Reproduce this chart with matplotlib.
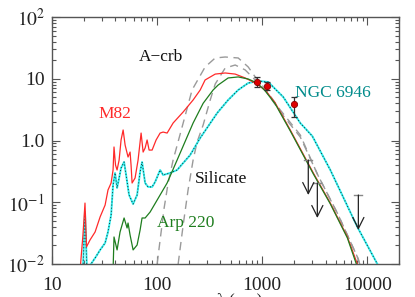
import numpy as np
import matplotlib
matplotlib.use("Agg")
import matplotlib.pyplot as plt
from matplotlib.ticker import FixedLocator, FixedFormatter, LogLocator, NullFormatter

plt.rcParams['font.family'] = ['Liberation Serif', 'DejaVu Serif']
plt.rcParams['mathtext.fontset'] = 'stix'

# ---- data (wavelength in micron, flux density) ----
m82_lam = [18.5, 19.7, 20.6, 21.3, 23.0, 25.7, 28.7, 32.0, 34.1, 36.5, 38.1, 38.9, 40.2, 41.6,
           43.5, 45.4, 47.5, 49.6, 52.9, 55.3, 56.5, 57.8, 61.7, 65.9, 70.4, 73.6, 76.9, 80.3,
           83.9, 89.6, 97.8, 106.8, 114, 124.5, 142, 177, 220, 257, 286, 357, 444, 553, 688,
           857, 1068, 1330, 1848, 3061, 4443, 6457, 8035, 8580]
m82_flux = [0.008, 0.0295, 0.097, 0.019, 0.0245, 0.033, 0.058, 0.090, 0.158, 0.205, 0.333, 0.785,
            0.40, 0.333, 0.483, 1.02, 1.48, 0.845, 0.54, 0.65, 0.40, 0.205, 0.247, 0.483, 1.32,
            0.65, 0.757, 1.02, 0.70, 0.70, 1.02, 1.32, 1.37, 1.32, 1.92, 2.90, 4.53, 6.58, 9.55,
            11.9, 12.4, 11.9, 10.3, 8.53, 6.58, 4.05, 1.48, 0.298, 0.097, 0.0274, 0.010, 0.008]

arp_lam = [38.1, 38.9, 41.6, 44.4, 48.5, 51.8, 52.9, 55.3, 59.1, 64.5, 68.9, 71.9, 76.9, 85.8,
           124.5, 155, 220, 274, 341, 381, 474, 591, 736, 896, 1068, 1330, 1848, 3061, 4443,
           6457, 7855, 8400]
arp_flux = [0.008, 0.0274, 0.0169, 0.033, 0.0556, 0.0383, 0.0461, 0.0295, 0.0169, 0.0203, 0.0356,
            0.0556, 0.0556, 0.0695, 0.205, 0.483, 1.92, 4.0, 6.58, 7.92, 10.3, 10.7, 9.9, 8.53,
            6.34, 3.90, 1.43, 0.288, 0.094, 0.0264, 0.010, 0.008]

ngc_lam = [19.7, 20.6, 21.5, 23.0, 25.7, 28.7, 32.0, 34.1, 36.5, 38.1, 39.8, 41.6, 43.5, 45.4,
           48.5, 50.7, 54.1, 59.1, 64.5, 68.9, 71.9, 76.9, 82.1, 89.6, 95.7, 106.8, 114, 133,
           155, 177, 206, 257, 373, 474, 591, 736, 916, 1141, 1585, 2300, 2994, 4443, 8035,
           12450, 13300]
ngc_flux = [0.008, 0.0695, 0.008, 0.0095, 0.0125, 0.0169, 0.0219, 0.033, 0.0621, 0.190, 0.298,
            0.170, 0.247, 0.359, 0.449, 0.276, 0.131, 0.0937, 0.131, 0.309, 0.449, 0.205, 0.177,
            0.177, 0.213, 0.333, 0.276, 0.298, 0.333, 0.432, 0.58, 1.10, 2.79, 4.53, 6.58, 8.53,
            9.2, 8.86, 5.06, 1.92, 1.18, 0.333, 0.0397, 0.010, 0.008]

acrb_lam = [100, 106.8, 116.6, 127.3, 142, 177, 215, 286, 357, 444, 591, 736, 857, 1068, 1484,
            2300, 3343, 5176, 8035, 8770]
acrb_flux = [0.010, 0.0245, 0.0807, 0.205, 0.483, 1.92, 6.58, 15.5, 21.7, 22.5, 21.7, 15.5, 10.7,
             6.83, 3.12, 1.23, 0.286, 0.067, 0.013, 0.008]

sil_lam = [158.5, 177, 197, 220, 240, 274, 320, 357, 444, 553, 688, 857, 1068, 1484, 2300, 3414,
           5296, 8210, 8770]
sil_flux = [0.010, 0.0429, 0.158, 0.483, 0.946, 1.78, 4.53, 8.22, 14.9, 16.7, 13.9, 9.55, 6.58,
            2.90, 1.14, 0.266, 0.062, 0.012, 0.008]

obs_lam = [896, 1116, 2018]
obs_flux = [8.86, 7.64, 3.90]
obs_lo = [7.35, 6.58, 2.40]
obs_hi = [10.7, 8.86, 5.06]

lim_lam = [2742, 3343, 8210]
lim_top = [0.483, 0.205, 0.131]
lim_head = [0.131, 0.0556, 0.0356]

yticks = [0.01, 0.1, 1.0, 10, 100]
ylabels = ['$10^{-2}$', '$10^{-1}$', '1.0', '10', '$10^{2}$']
xticks = [10, 100, 1000, 10000]
xlabels = ['10', '100', '1000', '10000']

# ---- figure ----
fig = plt.figure(figsize=(4.15, 2.97), dpi=100)
ax = fig.add_axes([52/415, 1-264/297, (399-52)/415, (264-17)/297])
ax.set_xscale('log')
ax.set_yscale('log')
ax.set_xlim(10, 20000)
ax.set_ylim(0.01, 100)

gray = '#9a9a9a'
ax.plot(acrb_lam, acrb_flux, color=gray, lw=1.0, dashes=(6, 4))
ax.plot(sil_lam, sil_flux, color=gray, lw=1.0, dashes=(6, 4))
ax.plot(ngc_lam, ngc_flux, color='#33eeee', lw=1.4)
ax.plot(ngc_lam, ngc_flux, color='#103030', lw=0.7, dashes=(1, 2.2))
ax.plot(m82_lam, m82_flux, color='#ff2a2a', lw=0.9)
ax.plot(arp_lam, arp_flux, color='#1e7d1e', lw=0.9)

# upper limits
for lx, lt, lh in zip(lim_lam, lim_top, lim_head):
    ax.annotate('', xy=(lx, lh), xytext=(lx, lt),
                arrowprops=dict(arrowstyle='->', color='#222222', lw=0.9,
                                mutation_scale=20, shrinkA=0, shrinkB=0))
    ax.plot([lx / 1.09, lx * 1.09], [lt, lt], color='#888888', lw=1.0)

# observed points
yerr = [np.array(obs_flux) - np.array(obs_lo), np.array(obs_hi) - np.array(obs_flux)]
ax.errorbar(obs_lam, obs_flux, yerr=yerr, fmt='none', ecolor='#333333', elinewidth=0.9,
            capsize=2.5, capthick=0.9)
ax.plot(obs_lam, obs_flux, 'o', ms=4.5, mfc='#dd0000', mec='#880000', mew=0.6)

# labels
lab_fs = 12.5
ax.text(109, 22.5, 'A\u2212crb', color='#111111', fontsize=lab_fs, ha='center', va='center')
ax.text(39.8, 2.69, 'M82', color='#ff2a2a', fontsize=lab_fs, ha='center', va='center')
ax.text(2060, 5.87, 'NGC 6946', color='#008b8b', fontsize=lab_fs, ha='left', va='center')
ax.text(228, 0.238, 'Silicate', color='#111111', fontsize=lab_fs, ha='left', va='center')
ax.text(100, 0.0461, 'Arp 220', color='#1e7d1e', fontsize=lab_fs, ha='left', va='center')

# axes styling
for s in ax.spines.values():
    s.set_color('#555555')
    s.set_linewidth(1.0)
ax.xaxis.set_major_locator(FixedLocator(xticks))
ax.xaxis.set_major_formatter(FixedFormatter(xlabels))
ax.xaxis.set_minor_locator(LogLocator(base=10, subs=np.arange(2, 10)))
ax.xaxis.set_minor_formatter(NullFormatter())
ax.yaxis.set_major_locator(FixedLocator(yticks))
ax.yaxis.set_major_formatter(FixedFormatter(ylabels))
ax.yaxis.set_minor_locator(LogLocator(base=10, subs=np.arange(2, 10)))
ax.yaxis.set_minor_formatter(NullFormatter())
ax.tick_params(which='both', direction='in', top=True, right=True, color='#555555',
               labelsize=14, labelcolor='#222222')
ax.tick_params(which='major', length=6, width=0.8)
ax.tick_params(which='minor', length=3, width=0.8)
ax.tick_params(axis='x', which='major', pad=9)
ax.tick_params(axis='y', which='major', pad=5)

fig.text(240/415, 4/297, '\u03bb (\u03bcm)', fontsize=12, ha='center', va='top', color='#222222')

fig.savefig('out.png', dpi=100)
